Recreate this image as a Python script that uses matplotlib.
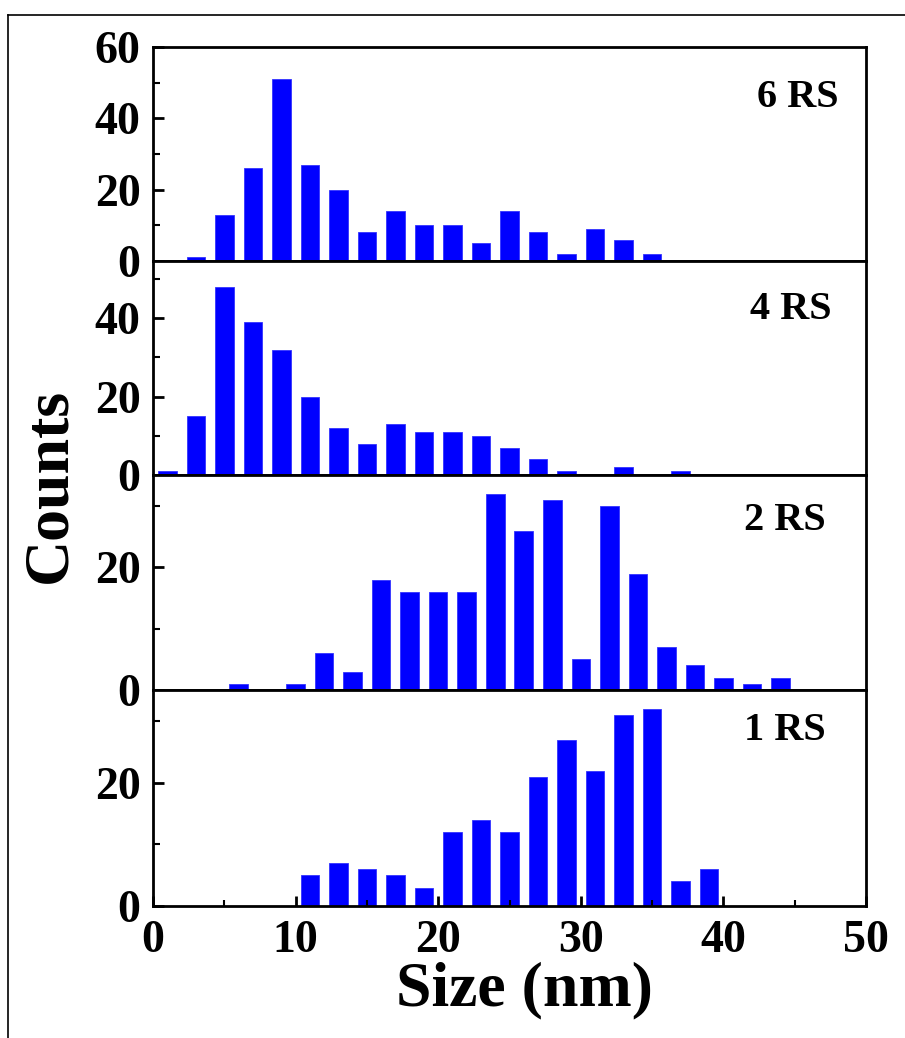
import matplotlib
matplotlib.use("Agg")
import matplotlib.pyplot as plt
from matplotlib.lines import Line2D
from matplotlib.ticker import MultipleLocator

plt.rcParams['font.family'] = ['Liberation Serif', 'DejaVu Serif']
plt.rcParams['font.weight'] = 'bold'

# particle size histograms (bin centre in nm, counts)
size_6rs = [3, 5, 7, 9, 11, 13, 15, 17, 19, 21, 23, 25, 27, 29, 31, 33, 35]
count_6rs = [1, 13, 26, 51, 27, 20, 8, 14, 10, 10, 5, 14, 8, 2, 9, 6, 2]

size_4rs = [1, 3, 5, 7, 9, 11, 13, 15, 17, 19, 21, 23, 25, 27, 29, 31, 33, 35, 37]
count_4rs = [1, 15, 48, 39, 32, 20, 12, 8, 13, 11, 11, 10, 7, 4, 1, 0, 2, 0, 1]

size_2rs = [6, 10, 12, 14, 16, 18, 20, 22, 24, 26, 28, 30, 32, 34, 36, 38, 40, 42, 44]
count_2rs = [1, 1, 6, 3, 18, 16, 16, 16, 32, 26, 31, 5, 30, 19, 7, 4, 2, 1, 2]

size_1rs = [11, 13, 15, 17, 19, 21, 23, 25, 27, 29, 31, 33, 35, 37, 39]
count_1rs = [5, 7, 6, 5, 3, 12, 14, 12, 21, 27, 22, 31, 32, 4, 6]

labels = ['6 RS', '4 RS', '2 RS', '1 RS']
ymax = [60, 54.6, 35.1, 35.1]
yticks = [[0, 20, 40, 60], [0, 20, 40], [0, 20], [0, 20]]
label_pos = [(0.962, 0.85), (0.952, 0.86), (0.944, 0.876), (0.943, 0.896)]

W, H = 905, 1038
fig = plt.figure(figsize=(W / 100, H / 100), dpi=100)

# panel extents in pixels (top, bottom)
left, right = 153, 866
panels = [(47, 261), (261, 475), (475, 690), (690, 906)]
data = [(size_6rs, count_6rs), (size_4rs, count_4rs),
        (size_2rs, count_2rs), (size_1rs, count_1rs)]

for i, ((top, bot), (xs, ys)) in enumerate(zip(panels, data)):
    ax = fig.add_axes([left / W, 1 - bot / H, (right - left) / W, (bot - top) / H])
    ax.bar(xs, ys, width=1.3, color='#0000ff', edgecolor='#3333ff', linewidth=0.6)
    ax.set_xlim(0, 50)
    ax.set_ylim(0, ymax[i])
    ax.set_yticks(yticks[i])
    ax.yaxis.set_minor_locator(MultipleLocator(10))
    for s in ax.spines.values():
        s.set_linewidth(2)
    ax.tick_params(axis='y', which='major', direction='in', length=8, width=2,
                   labelsize=33, pad=9, right=False)
    ax.tick_params(axis='y', which='minor', direction='in', length=5, width=1.5,
                   right=False)
    if i == 3:
        ax.xaxis.set_major_locator(MultipleLocator(10))
        ax.xaxis.set_minor_locator(MultipleLocator(5))
        ax.tick_params(axis='x', which='major', direction='in', length=7, width=2,
                       labelsize=33, pad=10, top=False)
        ax.tick_params(axis='x', which='minor', direction='in', length=4, width=1.5,
                       top=False)
    else:
        ax.set_xticks([])
    for lab in ax.get_xticklabels() + ax.get_yticklabels():
        lab.set_fontweight('bold')
    ax.text(label_pos[i][0], label_pos[i][1], labels[i], transform=ax.transAxes,
            ha='right', va='top', fontsize=29, fontweight='bold')

fig.text(524 / W, 1 - 990 / H, 'Size (nm)', ha='center', va='center',
         fontsize=46, fontweight='bold')
fig.text(50 / W, 1 - 485 / H, 'Counts', ha='center', va='center', rotation=90,
         fontsize=46, fontweight='bold')

# outer frame lines (left and top)
fig.add_artist(Line2D([8 / W, 8 / W], [0, 1 - 15 / H], transform=fig.transFigure,
                      color='black', linewidth=1.2))
fig.add_artist(Line2D([8 / W, 1], [1 - 15 / H, 1 - 15 / H], transform=fig.transFigure,
                      color='black', linewidth=1.2))

fig.savefig('out.png', dpi=100)
